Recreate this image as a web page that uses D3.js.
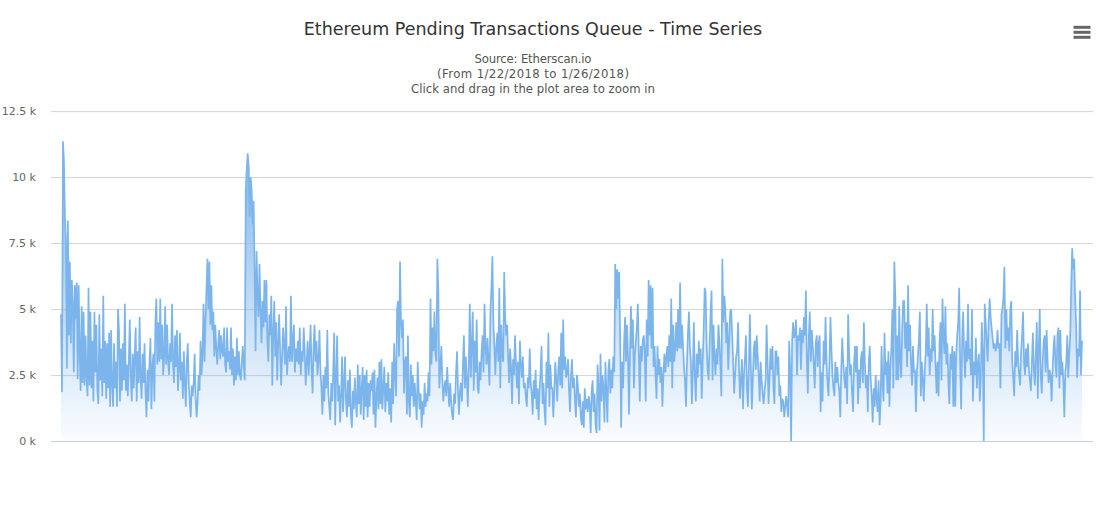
<!DOCTYPE html>
<html><head><meta charset="utf-8">
<script src="https://cdn.jsdelivr.net/npm/d3@7"></script>
<style>
html,body{margin:0;padding:0;background:#fff}
svg{display:block;font-family:"DejaVu Sans",sans-serif}
</style></head><body>
<svg id="c" width="1108" height="507"></svg>
<script>
const titleText = "Ethereum Pending Transactions Queue - Time Series";
const subtitleLines = ["Source: Etherscan.io", "(From 1/22/2018 to 1/26/2018)", "Click and drag in the plot area to zoom in"];
const yTicks = [0, 2500, 5000, 7500, 10000, 12500];
const startDate = "2018-01-22T00:00:00Z";
const endDate = "2018-01-26T00:00:00Z";
// Pending transactions; each row is one equal slice of the time span.
const pendingBySlice = [
[4800,1850,11350,10600,8500,7600,2750,8350,4000,6800,3700,6100,5200,2600,5900,4600,6000,2350,5900,3400,1900,5100,2200,4900,2100,4000],
[2400,1700,5800,2100,4900,2000,3800,1500,4900,2600,4400,1900,1400,4800,2300,3500,1700,5500,2200,3800,1600,3700,2000,4100,1300,4200],
[2100,1300,3700,2000,3000,1300,5000,4200,1500,3500,1900,3700,2300,5200,1900,2900,1700,3000,4600,2400,1500,3300,2000,3200,4300,1500],
[3400,2200,4700,2400,1600,3300,2200,3700,1800,900,2700,1500,2900,3900,1200,2800,3300,1500,4400,5400,2900,4500,3000,5400,3100,4400],
[2500,3200,5100,2900,4400,3000,2500,3700,3000,5200,2900,2200,4000,2800,4200,1900,2700,4100,2300,3000,1600,3400,2200,1300,3000,3700],
[2200,1500,900,2100,1700,2200,3300,1600,900,1500,2500,1900,3800,2500,3300,5200,3000,4500,5700,6900,5000,6800,4400,5900,4200,4900],
[3200,4400,3500,2900,3700,4200,3100,4000,3400,3200,4300,2900,2600,4300,3000,3400,2700,4300,2500,3500,2100,3200,2300,3900,2500,3400],
[2500,2300,3000,3600,2800,2300,9500,10300,10900,10400,8500,10000,9500,8200,9100,6500,3400,7200,5500,4700,6700,5000,3700,5300,4300,6100],
[4500,6100,3800,3000,4800,4000,5500,2100,4100,5300,3200,4500,2300,3700,4800,3400,2100,3200,4300,3600,2900,5100,2500,3200,3600,3000],
[5500,3000,3700,4400,2600,3500,3000,3800,2900,4300,2500,3400,3000,4300,3400,2100,3000,3800,2500,3400,4400,2700,1800,3600,4400,3000],
[3800,2500,3000,4200,2700,2000,1000,2500,1500,2800,2000,4200,1800,1300,800,2200,1500,2600,4100,600,2400,4000,1500,2100,700,1700],
[3200,1100,2200,3200,1500,900,2300,1300,2700,1000,500,1900,1200,2400,1500,900,2900,1400,2500,1000,2000,2800,800,2500,1300,2700],
[900,2200,1300,2300,1900,2600,1000,2700,500,1700,2400,1200,3000,1400,3100,1200,2000,2800,1100,2200,1500,2600,1000,2000,700,3000],
[1400,3700,2500,1700,5000,5300,3200,6800,4500,3900,4600,1800,3000,3200,1000,4000,1500,900,2900,1700,2500,1300,2200,1500,800,3000],
[1900,1200,1800,500,1500,1000,2200,1300,1800,1500,2600,1700,5400,2900,4300,3400,4900,3300,3000,6900,5700,2000,2700,3600,2400,1500],
[2000,2300,1700,2800,2000,1300,2200,1500,1000,800,1800,1400,2600,3400,1900,1000,1900,2200,1500,2900,4000,2000,3200,2300,1300,3000],
[5200,2400,3600,4900,1900,3800,2600,4600,2000,1800,3000,2300,3400,4000,2600,5200,3600,2900,3900,3000,2100,4900,5800,7000,4500,3600],
[2500,3600,4100,3000,5800,2000,4400,3200,3000,6400,4700,4000,4400,3200,2200,3500,2800,1400,3100,2500,4000,2900,2000,3000,1400,3800],
[2900,2400,3200,2000,2200,1700,1300,2400,2000,3500,2200,1800,1000,2300,1600,2700,1200,2000,800,1900,2600,3600,1400,2200,1200,600],
[3000,2000,4100,1300,2900,2000,2000,900,1900,3000,2300,1500,2700,3200,2100,4100,2000,4600,2700,3200,2400,2600,3100,1900,1100,2500],
[3100,2000,2400,1500,900,2500,2100,1300,1800,900,600,1500,500,2000,1200,1600,1100,1700,1400,300,1900,2300,1100,1800,600,300],
[2900,2000,400,3300,1500,2500,2000,700,3000,1900,700,2700,3100,1800,2700,2000,3200,2600,6700,5000,6500,5400,6400,4000,500,3000],
[2000,3700,4700,3000,4400,3200,1000,3400,5100,3500,4600,2000,3300,3800,4300,5200,3300,1500,3600,3000,3800,4000,3400,1500,4600,3200],
[6100,4000,5900,3500,5800,2800,3600,2500,1600,3600,2500,3100,2200,2800,1300,2500,3300,2600,3200,3600,2800,4000,3000,5400,2000,4400],
[3000,3500,4500,3400,5000,3500,6000,3500,4400,3600,2800,2300,1300,3000,4100,4900,3500,3000,1400,2700,4500,2400,1500,3300,2400,3800],
[2900,3500,1600,3000,4200,5800,5600,3700,2700,2300,3600,4800,5700,2300,4400,3200,2500,3500,2900,4400,3800,2800,1700,6900,4500,5500],
[5000,3700,4500,2700,3800,4900,5000,4000,3000,1800,2500,3200,3400,4500,2700,1600,2400,3100,1200,2500,3100,4000,2000,1300,2800,4800],
[2800,1200,2300,3500,3800,2700,4000,3200,2500,1500,3000,2300,1800,1400,1900,2300,4400,3000,1400,2400,3500,2700,3600,2000,1400,3400],
[3400,2500,3200,1700,2100,1100,1600,1500,900,1300,1700,1300,900,3800,2700,0,3800,4500,3900,4100,4600,2500,4000,3800,4300,2700],
[4200,3700,4700,4000,5700,3000,1800,4000,4900,3000,4200,3600,2900,2000,3700,4000,2800,3700,4000,1100,2600,1500,3800,2900,4700,3000],
[2200,1700,3000,4700,3500,2500,2000,1700,3000,2200,2800,2200,1900,900,2700,3900,3000,2400,2000,2800,1400,4800,3300,2500,2900,1800],
[1100,2900,3600,2600,3600,1400,2700,2000,3100,3400,2200,4500,3000,2000,2500,1100,3000,3600,2300,1700,700,2000,1300,2500,1600,1100],
[2300,600,1400,3600,2200,1500,4100,2500,3000,1800,3400,1300,2800,3500,5000,2000,6800,5500,2300,4000,2300,5100,3000,2400,4200,5300],
[5300,3500,4500,2800,5900,3400,4400,3000,2100,3600,2600,2700,1100,2600,3200,3800,4900,1700,3000,2300,1500,2700,3400,5200,3200,4300],
[2500,3500,3000,5000,3400,4000,2800,1800,3000,1700,3800,4500,2300,5400,4000,3300,5100,2900,3700,2200,1400,3300,2700,3600,1300,3400],
[1300,3300,4000,4500,5800,2900,1200,3800,4900,3400,2400,3800,3000,5200,3100,3500,2500,5000,1500,3000,2500,3900,2000,2900,3300,1500],
[2500,4500,3300,0,5200,4500,3700,3000,4500,5400,4700,4300,3900,3500,3700,3400,3600,4200,3500,3700,2000,4800,5000,5400,6600,3500],
[5000,3800,4300,3400,5000,5300,3000,2400,1700,3400,2800,4200,3000,2500,2100,3400,4000,4900,3000,2500,3500,2800,3700,2700,2300,1900],
[3000,4100,2700,2100,3300,4500,1600,3500,5000,2500,1800,3000,3800,4000,2600,4200,3000,2200,2700,2500,1500,2600,3500,4000,2900,2400],
[4000,4300,2000,4200,2500,3000,2300,900,2600,3000,4000,2400,3300,4000,5900,7300,6500,6900,5500,4400,2400,3500,3200,5700,2500,3800]
];

const plotLeft = 61, plotRight = 1083, gridLeft = 51, gridRight = 1093, plotTop = 111, plotBottom = 441;

const t0 = new Date(startDate), t1 = new Date(endDate);
const x = d3.scaleUtc().domain([t0, t1]).range([plotLeft, plotRight]);
const y = d3.scaleLinear().domain([0, 12500]).range([plotBottom, plotTop]);
const sliceMs = (t1 - t0) / pendingBySlice.length;
const series = pendingBySlice.flatMap((vals, i) =>
  vals.map((v, j) => ({ t: new Date(+t0 + sliceMs * (i + j / vals.length)), v })));

const svg = d3.select("#c");
const defs = svg.append("defs");
const grad = defs.append("linearGradient").attr("id", "fillGrad").attr("x1", 0).attr("y1", 0).attr("x2", 0).attr("y2", 1);
grad.append("stop").attr("offset", 0).attr("stop-color", "#7cb5ec").attr("stop-opacity", 1);
grad.append("stop").attr("offset", 1).attr("stop-color", "#7cb5ec").attr("stop-opacity", 0.03);

// Y axis labels
const yAxis = d3.axisLeft(y).tickValues(yTicks).tickSize(0).tickPadding(0).tickFormat(d => (d / 1000) + " k");
const yG = svg.append("g").attr("transform", "translate(36,0)").call(yAxis);
yG.select(".domain").remove();
yG.selectAll("text").attr("fill", "#666").style("font-size", "11px").style("font-family", '"DejaVu Sans",sans-serif');

// Gridlines
svg.append("g").selectAll("line").data(yTicks.filter(d => d > 0)).join("line")
  .attr("x1", gridLeft).attr("x2", gridRight)
  .attr("y1", d => y(d) + 0.6).attr("y2", d => y(d) + 0.6)
  .attr("stroke", "#d3d3d3").attr("stroke-width", 1);

// Area and line
const area = d3.area().x(d => x(d.t)).y0(y(0)).y1(d => y(d.v));
const line = d3.line().x(d => x(d.t)).y(d => y(d.v));
svg.append("path").datum(series).attr("d", area).attr("fill", "url(#fillGrad)");
svg.append("path").datum(series).attr("d", line).attr("fill", "none").attr("stroke", "#7cb5ec").attr("stroke-width", 1.7);

// X axis line
svg.append("line").attr("x1", gridLeft).attr("x2", gridRight)
  .attr("y1", plotBottom + 0.5).attr("y2", plotBottom + 0.5).attr("stroke", "#c0d0e0");

// Title
svg.append("text").attr("x", 533).attr("y", 35).attr("text-anchor", "middle")
  .attr("fill", "#333").style("font-size", "17.5px").text(titleText);
const subY = [63, 78, 93];
const subWidths = [117, 192, 244];
svg.append("g").selectAll("text").data(subtitleLines).join("text")
  .attr("x", 533).attr("y", (d, i) => subY[i]).attr("text-anchor", "middle")
  .attr("textLength", (d, i) => subWidths[i]).attr("lengthAdjust", "spacing")
  .attr("fill", "#555").style("font-size", "11.7px").text(d => d);

// Menu icon
svg.append("g").selectAll("line").data([27, 32, 37]).join("line")
  .attr("x1", 1073.5).attr("x2", 1090.5).attr("y1", d => d + 0.3).attr("y2", d => d + 0.3)
  .attr("stroke", "#666").attr("stroke-width", 3);
</script>
</body></html>
